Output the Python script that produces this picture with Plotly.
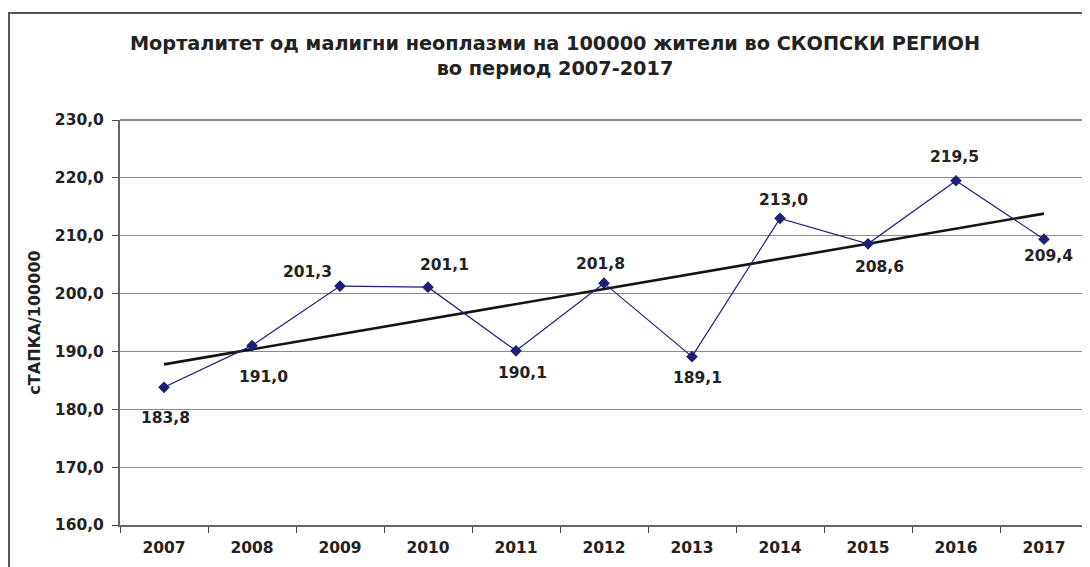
import numpy as np
import plotly.graph_objects as go

years = ["2007", "2008", "2009", "2010", "2011", "2012", "2013", "2014", "2015", "2016", "2017"]
rates = [183.8, 191.0, 201.3, 201.1, 190.1, 201.8, 189.1, 213.0, 208.6, 219.5, 209.4]
y_ticks = [160, 170, 180, 190, 200, 210, 220, 230]

title_line1 = "Морталитет од малигни неоплазми на 100000 жители во СКОПСКИ РЕГИОН"
title_line2 = "во период 2007-2017"
y_title = "сТАПКА/100000"

# label placement (pixel offsets from each point), style only
label_dx = [1, 11, -33, 16, 6, -4, 5, 3, 11, -2, 4]
label_dy = [-31, -31, 14, 22, -22, 19, -21, 18, -23, 24, -17]

FONT = "DejaVu Sans"
TXT = "#222222"

xi = np.arange(len(rates))
slope, intercept = np.polyfit(xi, rates, 1)
trend = (slope * xi + intercept).tolist()

labels = [f"{v:.1f}".replace(".", ",") for v in rates]

fig = go.Figure()
fig.add_trace(go.Scatter(
    x=years, y=trend, mode="lines",
    line=dict(color="#141414", width=2.6),
    hoverinfo="skip", showlegend=False,
))
fig.add_trace(go.Scatter(
    x=years, y=rates, mode="lines+markers",
    line=dict(color="#1f1f78", width=1.2),
    marker=dict(symbol="diamond", size=9, color="#1f1f78"),
    showlegend=False,
))

annotations = []
for i, (v, t, dx, dy) in enumerate(zip(rates, labels, label_dx, label_dy)):
    annotations.append(dict(
        x=i, y=v, xref="x", yref="y", text="<b>" + t + "</b>", showarrow=False,
        xshift=dx, yshift=dy, xanchor="center", yanchor="middle",
        font=dict(family=FONT, size=15.5, color=TXT),
    ))

# page has an 8px body margin; figure = page minus 8px on left/top
W, H = 1082, 559
L, R, T, B = 112, 2, 112, 42
pw = W - L - R
ph = H - T - B

fig.update_layout(
    width=W, height=H,
    margin=dict(l=L, r=R, t=T, b=B),
    paper_bgcolor="white", plot_bgcolor="white",
    separators=", ",
    font=dict(family=FONT, size=15, color=TXT),
    title=dict(
        text="<b>" + title_line1 + "</b><br><b>" + title_line2 + "</b>",
        xref="container", x=547 / W, xanchor="center",
        yref="container", y=1 - 42 / H, yanchor="middle",
        font=dict(family=FONT, size=19.3, color=TXT),
    ),
    xaxis=dict(
        type="category", range=[-0.5, 10.5],
        showgrid=False, showline=True, linecolor="#666666", linewidth=2,
        ticks="outside", ticklen=6, tickcolor="#444444",
        tickson="boundaries", mirror=False,
        ticklabelstandoff=7,
        tickfont=dict(family=FONT, size=15.5, color=TXT, weight="bold"),
    ),
    yaxis=dict(
        range=[160, 230], tickvals=y_ticks, tickformat=".1f",
        showgrid=True, gridcolor="#8a8a8a", gridwidth=1,
        showline=True, linecolor="#666666", linewidth=2,
        ticks="outside", ticklen=6, tickcolor="#444444",
        ticklabelstandoff=5,
        tickfont=dict(family=FONT, size=15.5, color=TXT, weight="bold"),
        zeroline=False,
        title=dict(text="<b>" + y_title + "</b>", standoff=10,
                   font=dict(family=FONT, size=16, color=TXT)),
    ),
    annotations=annotations,
    shapes=[
        dict(type="line", xref="paper", yref="paper", x0=0, x1=1, y0=1, y1=1,
             line=dict(color="#8a8a8a", width=2), layer="below"),
        dict(type="line", xref="paper", yref="paper", x0=1, x1=1, y0=0, y1=1,
             line=dict(color="#9a9a9a", width=2), layer="below"),
        dict(type="rect", xref="paper", yref="paper",
             x0=(1 - L) / pw, x1=(W + 20 - L) / pw,
             y0=-(B + 20) / ph, y1=1 + (T - 5) / ph,
             line=dict(color="#555555", width=2), layer="below"),
    ],
)

fig.write_html("out.html")
